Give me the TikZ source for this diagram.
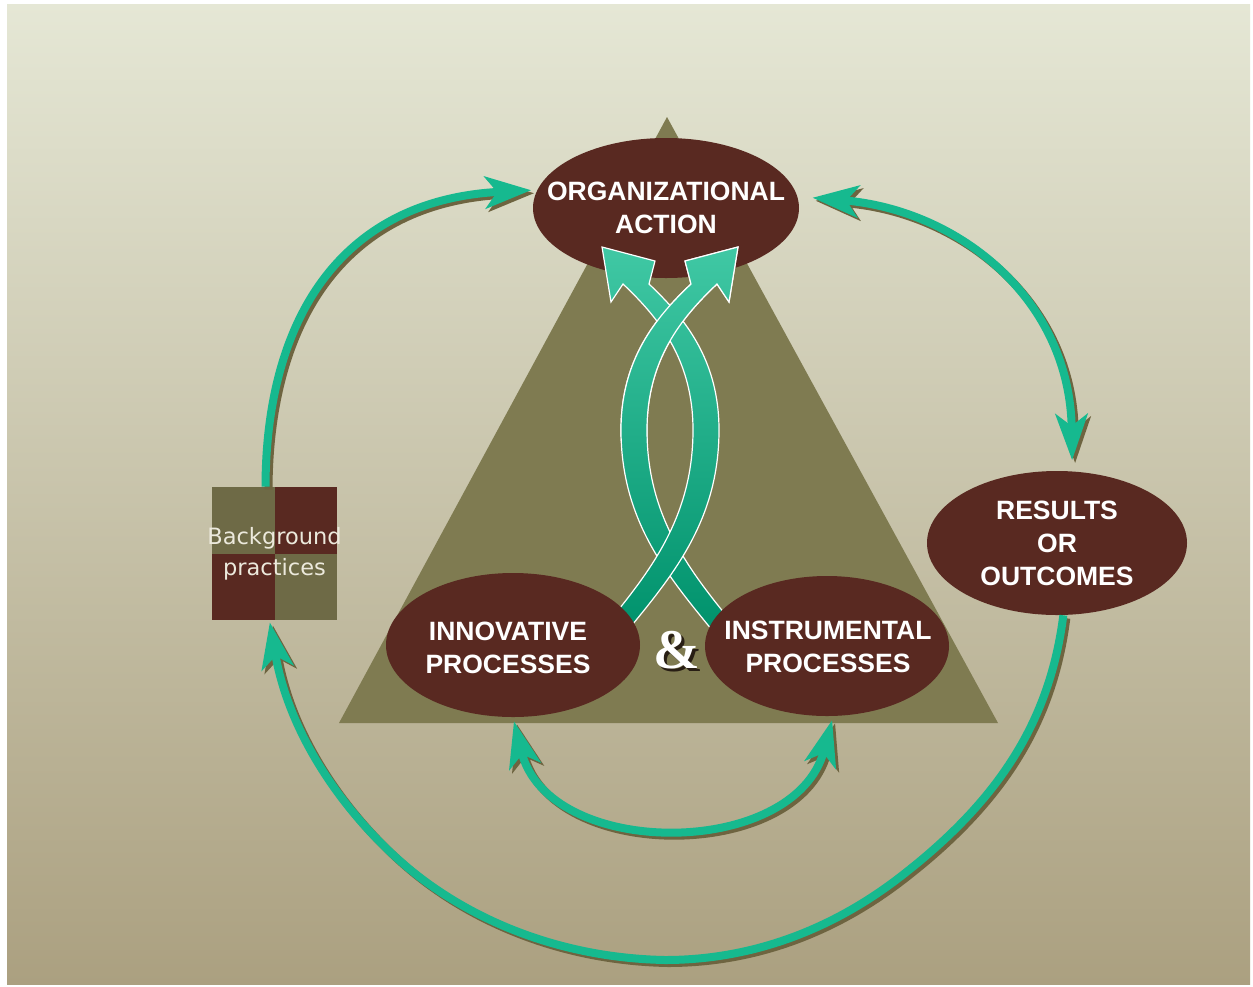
\documentclass[tikz,border=0pt]{standalone}
\usepackage{fontspec}
\setmainfont{Liberation Sans}
\newfontfamily\thinsans{DejaVu Sans}
\newfontfamily\ampserif{Liberation Serif}
\usetikzlibrary{arrows.meta,shapes.geometric}

\definecolor{paletop}{RGB}{229,231,213}
\definecolor{palebot}{RGB}{171,160,128}
\definecolor{khaki}{RGB}{127,123,81}
\definecolor{khakidark}{RGB}{110,106,70}
\definecolor{oxblood}{RGB}{89,41,33}
\definecolor{jade}{RGB}{22,185,143}
\definecolor{jadelight}{RGB}{64,200,164}
\definecolor{jadedark}{RGB}{0,146,108}
\definecolor{umber}{RGB}{110,100,64}
\definecolor{soot}{RGB}{40,30,20}

\tikzset{every picture/.style={line width=0.75pt}}
\tikzset{
  leaf/.tip={Stealth[length=46pt,width=32pt,inset=12pt]},
  blob/.style={ellipse, fill=oxblood, inner sep=0pt},
  caps/.style={text=white, font=\bfseries\fontsize{26.5}{33}\selectfont, align=center, inner sep=0.75pt},
  loopline/.style={draw=jade, line width=8pt},
  loopshadow/.style={draw=umber, line width=8pt, transform canvas={xshift=3pt,yshift=-3pt}},
  ribbon/.style={top color=jadelight, bottom color=jadedark, draw=white, line width=1.2pt}
}

% twisted ribbons, outline shifted left/right of the centre line
\newcommand{\ribbonA}{(712,630) .. controls (667,575) and (621,520) .. (621,430) .. controls (621,360) and (655,318) .. (691,284) -- (685,261) -- (738,247) -- (729,302) -- (717,284) .. controls (681,318) and (647,360) .. (647,430) .. controls (647,520) and (693,575) .. (738,630) -- cycle}
\newcommand{\ribbonB}{(602,630) .. controls (647,575) and (693,520) .. (693,430) .. controls (693,360) and (659,318) .. (623,284) -- (611,302) -- (602,247) -- (655,261) -- (649,284) .. controls (685,318) and (719,360) .. (719,430) .. controls (719,520) and (673,575) .. (628,630) -- cycle}

\begin{document}
\begin{tikzpicture}[x=1pt,y=1pt,yscale=-1,xscale=1]
\useasboundingbox (0,0) rectangle (1253,986);
\fill[white] (0,0) rectangle (1253,986);

%Shape: Rectangle (backdrop)
\shade[top color=paletop, bottom color=palebot] (7,4) rectangle (1250,984);

%Shape: Triangle
\fill[khaki] (667,117) -- (998,723) -- (339,723) -- cycle;

%Shape: Ellipse
\node[blob, minimum width=266pt, minimum height=140pt] (org) at (666,208) {};

%Shape: Ribbons
\shadedraw[ribbon] \ribbonA;
\shadedraw[ribbon] \ribbonB;
\begin{scope}
\clip (560,240) rectangle (780,440);
\shadedraw[ribbon] \ribbonA;
\end{scope}

%Shape: Ellipses
\node[blob, minimum width=254pt, minimum height=144pt] (innov) at (513,645) {};
\node[blob, minimum width=244pt, minimum height=140pt] (instr) at (827,646) {};
\node[blob, minimum width=260pt, minimum height=144pt] (res) at (1057,543) {};

%Shape: Square
\node[minimum width=125pt, minimum height=133pt, inner sep=0pt] (bg) at (274.5,553.5) {};
\fill[khakidark] (bg.north west) rectangle (bg.center);
\fill[oxblood] (bg.north) rectangle (bg.east);
\fill[oxblood] (bg.west) rectangle (bg.south);
\fill[khakidark] (bg.center) rectangle (bg.south east);

%Curve Lines (shadows)
\draw[loopshadow, -leaf, shorten >=6pt] ([xshift=-9pt]bg.north) .. controls (266,320) and (340,200) .. (org.172);
\draw[loopshadow, leaf-leaf, shorten <=15pt, shorten >=11pt] (org.5) .. controls (960,210) and (1070,300) .. (res.78);
\draw[loopshadow, -leaf, shorten >=2pt] (res.275) .. controls (1050,720) and (1000,800) .. (900,877) .. controls (830,931) and (750,960) .. (665,960) .. controls (560,958) and (470,920) .. (407,867) .. controls (350,819) and (290,740) .. ([xshift=-5pt]bg.south);
\draw[loopshadow, leaf-leaf, shorten <=4pt, shorten >=4pt] (innov.south) .. controls (548,860) and (795,860) .. (instr.275);

%Curve Lines
\draw[loopline, -leaf, shorten >=6pt] ([xshift=-9pt]bg.north) .. controls (266,320) and (340,200) .. (org.172);
\draw[loopline, leaf-leaf, shorten <=15pt, shorten >=11pt] (org.5) .. controls (960,210) and (1070,300) .. (res.78);
\draw[loopline, -leaf, shorten >=2pt] (res.275) .. controls (1050,720) and (1000,800) .. (900,877) .. controls (830,931) and (750,960) .. (665,960) .. controls (560,958) and (470,920) .. (407,867) .. controls (350,819) and (290,740) .. ([xshift=-5pt]bg.south);
\draw[loopline, leaf-leaf, shorten <=4pt, shorten >=4pt] (innov.south) .. controls (548,860) and (795,860) .. (instr.275);

% Text Node
\node[caps] (orgtxt) at (org) {ORGANIZATIONAL\\ACTION};
\node[caps] (innovtxt) at (508,648) {INNOVATIVE\\PROCESSES};
\node[caps] (instrtxt) at (828,647) {INSTRUMENTAL\\PROCESSES};
\node[caps] (restxt) at (res) {RESULTS\\OR\\OUTCOMES};
\node[text={rgb,255:red,236;green,233;blue,220}, font=\thinsans\fontsize{22.5}{31}\selectfont, align=center] (bgtxt) at (bg) {Background\\practices};
\node[text=white, font=\ampserif\bfseries\fontsize{56}{56}\selectfont] (amp) at (677,652) {\rlap{\kern3pt\raisebox{-3pt}{\color{soot}\&}}\&};

\end{tikzpicture}
\end{document}
